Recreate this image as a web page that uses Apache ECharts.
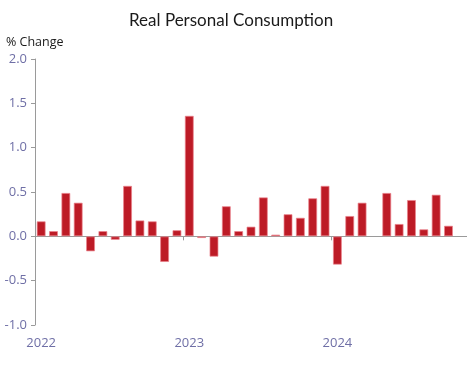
<!DOCTYPE html>
<html>
<head>
<meta charset="utf-8">
<script src="https://cdn.jsdelivr.net/npm/echarts@6/dist/echarts.min.js"></script>
<style>html,body{margin:0;padding:0;background:#fff;}#c{width:467px;height:373px;}</style>
</head>
<body>
<div id="c"></div>
<script>
const months = [];
const years = [2022, 2023, 2024];
years.forEach(y => { for (let m = 1; m <= 12; m++) months.push(y + '-' + String(m).padStart(2, '0')); });
const categories = months.slice(0, 35); // Jan 2022 .. Nov 2024
const values = [
  0.17, 0.06, 0.49, 0.38, -0.17, 0.06, -0.04, 0.57, 0.18, 0.17, -0.29, 0.07,
  1.36, -0.02, -0.23, 0.34, 0.06, 0.11, 0.44, 0.02, 0.25, 0.21, 0.43, 0.57,
  -0.32, 0.23, 0.38, null, 0.49, 0.14, 0.41, 0.08, 0.47, 0.12, null
];
const yTicks = { min: -1.0, max: 2.0, interval: 0.5 };
const titleText = 'Real Personal Consumption';
const yName = '% Change';

const labelColor = '#6f6fa6';
const font = 'Open Sans';
const chart = echarts.init(document.getElementById('c'));
chart.setOption({
  animation: false,
  title: { text: titleText, left: 124, top: 7, textStyle: { fontFamily: 'Lato', fontWeight: 'normal', fontSize: 17, color: '#1a1a1a' } },
  grid: { left: 35, top: 59, width: 432, height: 266 },
  xAxis: [
    {
      type: 'category', data: categories, boundaryGap: true,
      axisLine: { show: false, onZero: false }, axisTick: { show: false },
      axisLabel: {
        interval: 0, margin: 12,
        formatter: (v) => v.endsWith('-01') ? v.slice(0, 4) : '',
        color: labelColor, fontFamily: font, fontSize: 13
      }
    },
    {
      type: 'category', data: categories, boundaryGap: true, position: 'bottom',
      axisLine: { show: true, onZero: true, lineStyle: { color: '#9a9a9a', width: 1 } },
      axisTick: { show: true, length: 4, inside: false, interval: (i) => i % 12 === 0, lineStyle: { color: '#9a9a9a' } },
      axisLabel: { show: false }
    }
  ],
  yAxis: {
    type: 'value', min: yTicks.min, max: yTicks.max, interval: yTicks.interval,
    name: yName, nameLocation: 'end', nameGap: 10,
    nameTextStyle: { align: 'left', padding: [0, 0, 0, -29], color: '#1a1a1a', fontFamily: font, fontSize: 12.5 },
    axisLine: { show: true, lineStyle: { color: '#9a9a9a' } },
    axisTick: { show: true, length: 4, lineStyle: { color: '#9a9a9a' } },
    splitLine: { show: false },
    axisLabel: { formatter: (v) => v.toFixed(1), color: labelColor, fontFamily: font, fontSize: 13, margin: 8 }
  },
  series: [{
    type: 'bar', xAxisIndex: 0, data: values, barWidth: 9,
    itemStyle: { color: '#bd1b26', borderColor: 'rgba(235,130,140,0.7)', borderWidth: 1 }
  }]
});
</script>
</body>
</html>
